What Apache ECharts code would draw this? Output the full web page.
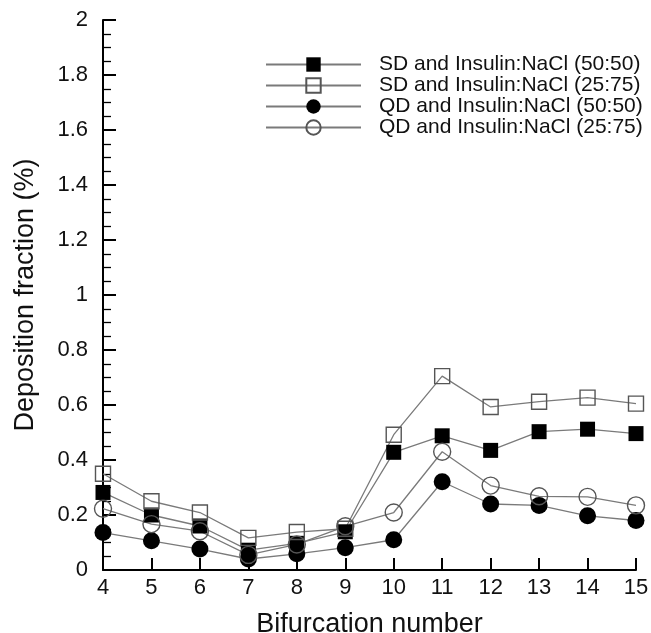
<!DOCTYPE html>
<html>
<head>
<meta charset="utf-8">
<script src="https://cdn.jsdelivr.net/npm/echarts@6/dist/echarts.min.js"></script>
<style>
  html, body { margin: 0; padding: 0; background: #fff; }
  #chart { width: 651px; height: 633px; }
</style>
</head>
<body>
<div id="chart"></div>
<script>
var bifurcations = [4, 5, 6, 7, 8, 9, 10, 11, 12, 13, 14, 15]
var sd5050 = [0.282, 0.200, 0.160, 0.072, 0.097, 0.139, 0.428, 0.488, 0.435, 0.503, 0.512, 0.496]
var sd2575 = [0.350, 0.250, 0.209, 0.117, 0.138, 0.150, 0.492, 0.705, 0.593, 0.612, 0.627, 0.605]
var qd5050 = [0.136, 0.106, 0.076, 0.040, 0.059, 0.081, 0.110, 0.321, 0.240, 0.235, 0.197, 0.180]
var qd2575 = [0.223, 0.167, 0.141, 0.055, 0.093, 0.159, 0.209, 0.430, 0.307, 0.268, 0.266, 0.235]
var names = [
  'SD and Insulin:NaCl (50:50)',
  'SD and Insulin:NaCl (25:75)',
  'QD and Insulin:NaCl (50:50)',
  'QD and Insulin:NaCl (25:75)'
]

var font = '"Liberation Sans", Arial, Helvetica, sans-serif'

function pairs(values) {
  return bifurcations.map(function (b, i) { return [b, values[i]] })
}

function makeSeries(name, values, symbol, filled, size) {
  return {
    name: name,
    type: 'line',
    data: pairs(values),
    symbol: symbol,
    symbolSize: size,
    showAllSymbol: true,
    lineStyle: { color: '#7a7a7a', width: 1.3 },
    itemStyle: filled
      ? { color: '#000', borderColor: '#000', borderWidth: 0 }
      : { color: 'rgba(255,255,255,0)', borderColor: '#555', borderWidth: 1.4 },
    emphasis: { disabled: true },
    animation: false
  }
}

var chart = echarts.init(document.getElementById('chart'))
chart.setOption({
  backgroundColor: '#fff',
  textStyle: { fontFamily: font },
  grid: { left: 103, right: 15, top: 20, bottom: 63, containLabel: false, outerBoundsMode: 'none' },
  legend: {
    orient: 'vertical',
    left: 260,
    top: 49,
    itemWidth: 95,
    itemHeight: 18,
    itemGap: 0,
    data: names,
    textStyle: { fontFamily: font, fontSize: 21, lineHeight: 21, color: '#111', padding: [0, 0, 0, 13] }
  },
  xAxis: {
    type: 'value',
    min: 4,
    max: 15,
    interval: 1,
    name: 'Bifurcation number',
    nameLocation: 'middle',
    nameGap: 41,
    nameTextStyle: { fontFamily: font, fontSize: 27, color: '#111' },
    axisLine: { show: true, onZero: false, lineStyle: { color: '#000', width: 2 } },
    axisTick: { show: true, inside: true, length: 12, lineStyle: { color: '#000', width: 2 } },
    axisLabel: { fontFamily: font, fontSize: 22, color: '#111', margin: 7 },
    splitLine: { show: false }
  },
  yAxis: {
    type: 'value',
    min: 0,
    max: 2,
    interval: 0.2,
    name: 'Deposition fraction (%)',
    nameLocation: 'middle',
    nameGap: 64,
    nameTextStyle: { fontFamily: font, fontSize: 27, color: '#111' },
    axisLine: { show: true, lineStyle: { color: '#000', width: 2 } },
    axisTick: { show: true, inside: true, length: 13, lineStyle: { color: '#000', width: 2 } },
    minorTick: { show: true, splitNumber: 4, length: 8, lineStyle: { color: '#000', width: 1.3 } },
    axisLabel: { fontFamily: font, fontSize: 22, color: '#111', margin: 15 },
    splitLine: { show: false }
  },
  series: [
    makeSeries(names[0], sd5050, 'rect', true, 15),
    makeSeries(names[1], sd2575, 'rect', false, 15),
    makeSeries(names[2], qd5050, 'circle', true, 17),
    makeSeries(names[3], qd2575, 'circle', false, 17)
  ]
})
</script>
</body>
</html>
